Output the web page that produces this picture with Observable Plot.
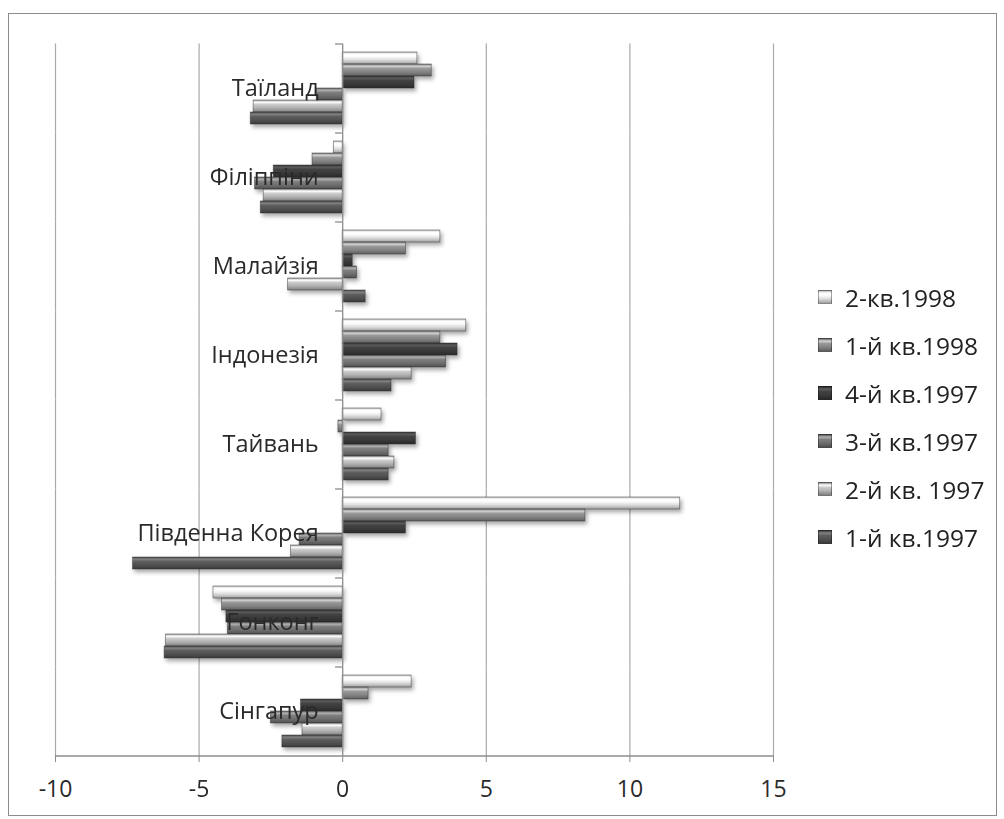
<!DOCTYPE html>
<html><head><meta charset="utf-8">
<script src="https://cdn.jsdelivr.net/npm/d3@7"></script>
<script src="https://cdn.jsdelivr.net/npm/@observablehq/plot@0.6"></script>
<style>
body{margin:0;background:#fff;font-family:"Open Sans",sans-serif;}
#wrap{position:relative;width:1004px;height:819px;overflow:hidden;}
#chart{position:absolute;left:0;top:0;}
#border{position:absolute;left:8px;top:13px;width:989px;height:803px;border:1.5px solid #8c8c8c;box-sizing:border-box;pointer-events:none;}
#legend{position:absolute;left:818px;top:273px;}
.item{display:flex;align-items:center;height:48px;font-size:24.5px;color:#222;white-space:nowrap;}
.sw{width:14px;height:14px;margin-right:13px;box-sizing:border-box;border:1px solid rgba(0,0,0,0.35);}
</style></head><body>
<div id="wrap"><div id="chart"></div><div id="border"></div><div id="legend"></div></div>
<script>
// Categories, top to bottom
const countries = ["Таїланд","Філіппіни","Малайзія","Індонезія","Тайвань","Південна Корея","Гонконг","Сінгапур"];
// Series, top to bottom inside each group (same order as the legend)
const series = ["2-кв.1998","1-й кв.1998","4-й кв.1997","3-й кв.1997","2-й кв. 1997","1-й кв.1997"];
// Values per series, in the country order above
const q2_1998 = [2.6, -0.3, 3.4, 4.3, 1.35, 11.75, -4.5, 2.4];
const q1_1998 = [3.1, -1.05, 2.2, 3.4, -0.15, 8.45, -4.2, 0.9];
const q4_1997 = [2.5, -2.4, 0.35, 4.0, 2.55, 2.2, -4.05, -1.45];
const q3_1997 = [-0.9, -3.05, 0.5, 3.6, 1.6, -1.5, -4.0, -2.5];
const q2_1997 = [-3.1, -2.75, -1.9, 2.4, 1.8, -1.8, -6.15, -1.4];
const q1_1997 = [-3.2, -2.85, 0.8, 1.7, 1.6, -7.3, -6.2, -2.1];
const xTicks = [-10, -5, 0, 5, 10, 15];
const baseColors = ["#dedede","#858585","#3a3a3a","#6f6f6f","#b2b2b2","#525252"];

const valuesBySeries = [q2_1998, q1_1998, q4_1997, q3_1997, q2_1997, q1_1997];
const rows = [];
countries.forEach((c, i) => series.forEach((s, j) => rows.push({country: c, series: s, value: valuesBySeries[j][i]})));

function stops(c) {
  const b = d3.color(c);
  return [
    [0, b.darker(0.4).formatHex()],
    [0.18, b.brighter(1.3).formatHex()],
    [0.38, b.brighter(0.35).formatHex()],
    [0.65, b.formatHex()],
    [1, b.darker(0.9).formatHex()]
  ];
}

const gapHalf = 8.5;
const chart = Plot.plot({
  width: 1004, height: 819,
  marginLeft: 55, marginRight: 231, marginTop: 43, marginBottom: 63,
  style: {fontFamily: "'Open Sans', sans-serif", fontSize: "23px", color: "#222", background: "transparent", overflow: "visible"},
  x: {domain: [-10, 15], label: null},
  fy: {domain: countries, paddingInner: 0.19, paddingOuter: 0.095, axis: null, label: null},
  y: {domain: series, padding: 0, axis: null, label: null},
  color: {domain: series, range: series.map((s, i) => `url(#g${i})`)},
  marks: [
    Plot.ruleX(xTicks.filter(d => d !== 0), {stroke: "#a9a9a9", strokeWidth: 1.2, insetTop: -gapHalf, insetBottom: -gapHalf}),
    Plot.barX(rows, {fy: "country", y: "series", x: "value", fill: "series", stroke: "#2a2a2a", strokeOpacity: 0.55, strokeWidth: 0.8}),
    Plot.ruleX([0], {stroke: "#8c8c8c", strokeWidth: 1.3, insetTop: -gapHalf, insetBottom: -gapHalf}),
    Plot.ruleY(countries, {fy: d => d, y: () => series[0], x1: -0.25, x2: 0, dy: -14.5, stroke: "#8c8c8c", strokeWidth: 1.3}),
    Plot.ruleY([countries[countries.length - 1]], {fy: d => d, y: () => series[series.length - 1], x1: -10, x2: 15, dy: 14.5, stroke: "#8c8c8c", strokeWidth: 1.3}),
    Plot.text(countries, {fy: d => d, x: 0, text: d => d, textAnchor: "end", dx: -24, fontSize: 23.5, fill: "#2a2a2a"}),
    Plot.axisX({ticks: xTicks, tickFormat: d => String(d), tickSize: 7, tickPadding: 18, stroke: "#8c8c8c", fill: "#2a2a2a", fontSize: 23, anchor: "bottom", dy: 8, label: null})
  ]
});

// gradient defs + shadow
const svg = d3.select(chart);
const defs = svg.insert("defs", ":first-child");
baseColors.forEach((c, i) => {
  const g = defs.append("linearGradient").attr("id", `g${i}`).attr("x1", 0).attr("y1", 0).attr("x2", 0).attr("y2", 1);
  stops(c).forEach(([o, col]) => g.append("stop").attr("offset", o).attr("stop-color", col));
});
const f = defs.append("filter").attr("id", "shadow").attr("x", "-10%").attr("y", "-30%").attr("width", "130%").attr("height", "190%");
f.append("feDropShadow").attr("dx", 2).attr("dy", 3).attr("stdDeviation", 2).attr("flood-color", "#000").attr("flood-opacity", 0.35);
svg.selectAll('g[aria-label="bar"]').attr("filter", "url(#shadow)");

document.getElementById("chart").appendChild(chart);

// legend
const legend = d3.select("#legend");
series.forEach((s, i) => {
  const st = stops(baseColors[i]);
  const item = legend.append("div").attr("class", "item");
  item.append("div").attr("class", "sw")
    .style("background", `linear-gradient(to bottom, ${st.map(([o, c]) => `${c} ${o * 100}%`).join(", ")})`);
  item.append("span").text(s);
});
</script>
</body></html>
